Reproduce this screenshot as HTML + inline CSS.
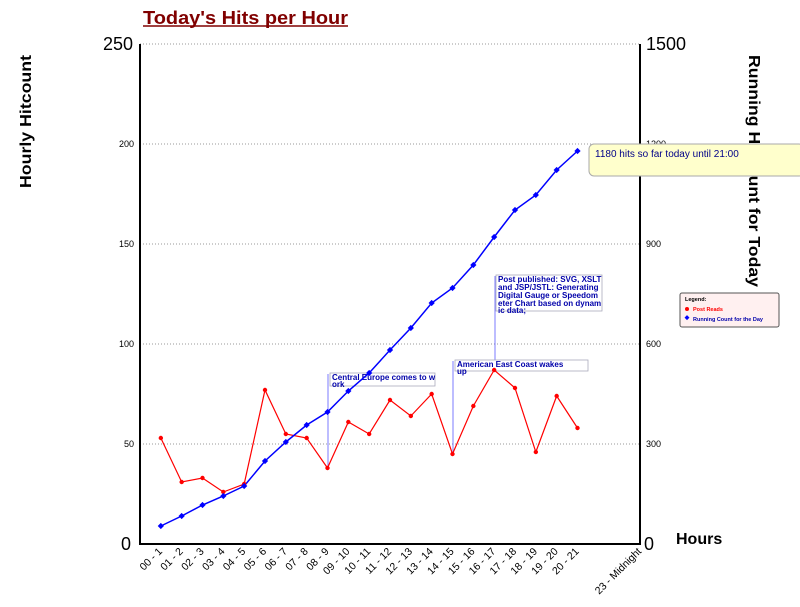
<!DOCTYPE html>
<html><head><meta charset="utf-8"><style>body{margin:0;background:#fff}svg{display:block}text{font-family:"Liberation Sans",Arial,sans-serif}</style></head><body>
<svg width="800" height="607" viewBox="0 0 800 607" xmlns="http://www.w3.org/2000/svg">
<text x="143" y="24" font-size="18" font-weight="bold" fill="#800000" textLength="205" lengthAdjust="spacingAndGlyphs">Today's Hits per Hour</text>
<line x1="143" y1="26" x2="348" y2="26" stroke="#800000" stroke-width="1.5"/>
<g stroke="#999" stroke-dasharray="1,2" stroke-width="1">
<line x1="140" y1="44" x2="640" y2="44"/><line x1="140" y1="144" x2="640" y2="144"/><line x1="140" y1="244" x2="640" y2="244"/><line x1="140" y1="344" x2="640" y2="344"/><line x1="140" y1="444" x2="640" y2="444"/>
</g>
<g stroke="#000" stroke-width="2"><line x1="140" y1="44" x2="140" y2="545"/><line x1="640" y1="44" x2="640" y2="545"/><line x1="139" y1="544" x2="641" y2="544"/></g>
<g font-size="9" fill="#000"><text x="134" y="147" text-anchor="end">200</text><text x="134" y="247" text-anchor="end">150</text><text x="134" y="347" text-anchor="end">100</text><text x="134" y="447" text-anchor="end">50</text>
<text x="646" y="147">1200</text><text x="646" y="247">900</text><text x="646" y="347">600</text><text x="646" y="447">300</text></g>
<g font-size="18" fill="#000"><text x="133" y="50" text-anchor="end">250</text><text x="131" y="550" text-anchor="end">0</text><text x="646" y="50">1500</text><text x="644" y="550">0</text></g>
<text transform="translate(31,55) rotate(-90)" font-size="16" font-weight="bold" text-anchor="end" textLength="133" lengthAdjust="spacingAndGlyphs">Hourly Hitcount</text>
<text transform="translate(749,55) rotate(90)" font-size="16" font-weight="bold" textLength="232" lengthAdjust="spacingAndGlyphs">Running Hitcount for Today</text>
<text x="676" y="544" font-size="16" font-weight="bold">Hours</text>
<g id="xl" font-size="10.5" fill="#000"></g>
<g stroke="#5a5aff" stroke-width="0.8" fill="none"><line x1="328" y1="374" x2="328" y2="468"/><line x1="453" y1="361" x2="453" y2="454"/><line x1="495" y1="276" x2="495" y2="370"/></g>
<g fill="#fff" stroke="#aab" stroke-width="0.8"><rect x="330" y="373" width="105" height="13"/><rect x="455" y="360" width="133" height="11"/><rect x="496" y="275" width="106" height="36"/></g>
<g font-size="8" font-weight="bold" fill="#0000aa"><text x="332" y="380">Central Europe comes to w</text><text x="332" y="387">ork</text>
<text x="457" y="367">American East Coast wakes</text><text x="457" y="374">up</text>
<text x="498" y="282">Post published: SVG, XSLT</text><text x="498" y="290">and JSP/JSTL: Generating</text><text x="498" y="298">Digital Gauge or Speedom</text><text x="498" y="306">eter Chart based on dynam</text><text x="498" y="313">ic data;</text></g>
<polyline id="r" fill="none" stroke="#f00" stroke-width="1.2"/>
<polyline id="b" fill="none" stroke="#00f" stroke-width="1.5"/>
<g id="pts"></g>
<rect x="589" y="144" width="215" height="32" rx="5" fill="#ffffcc" stroke="#aaa"/>
<text x="595" y="157" font-size="10" fill="#000088">1180 hits so far today until 21:00</text>
<rect x="680" y="293" width="99" height="34" rx="2" fill="#fff0f0" stroke="#555"/>
<text x="685" y="301" font-size="5.5" font-weight="bold">Legend:</text>
<circle cx="687" cy="309" r="2" fill="#f00"/><text x="693" y="311" font-size="5.5" font-weight="bold" fill="#f00">Post Reads</text>
<rect x="685" y="316" width="3.5" height="3.5" fill="#00f" transform="rotate(45 687 318)"/><text x="693" y="321" font-size="5.5" font-weight="bold" fill="#00a">Running Count for the Day</text>
</svg>
<script>
var red=[53,31,33,26,30,77,55,53,38,61,55,72,64,75,45,69,87,78,46,74,58];
var by=[526,516,505,496,486,461,442,425,412,391,373,350,328,303,288,265,237,210,195,170,151];
var ns="http://www.w3.org/2000/svg",rp="",bp="",g=document.getElementById("pts"),xl=document.getElementById("xl");
function X(i){return 140+500/24*(i+1);}
for(var i=0;i<21;i++){var x=X(i),y=544-red[i]*2;rp+=x+","+y+" ";bp+=x+","+by[i]+" ";
var c=document.createElementNS(ns,"circle");c.setAttribute("cx",x);c.setAttribute("cy",y);c.setAttribute("r",2.2);c.setAttribute("fill","#f00");g.appendChild(c);
var r=document.createElementNS(ns,"rect");r.setAttribute("x",x-2.2);r.setAttribute("y",by[i]-2.2);r.setAttribute("width",4.4);r.setAttribute("height",4.4);r.setAttribute("fill","#00f");r.setAttribute("transform","rotate(45 "+x+" "+by[i]+")");g.appendChild(r);
var t=document.createElementNS(ns,"text");var s=(i<10?"0":"")+i+" - "+(i+1);t.textContent=s;t.setAttribute("text-anchor","end");t.setAttribute("transform","translate("+(x+2)+",552) rotate(-45)");xl.appendChild(t);}
var t=document.createElementNS(ns,"text");t.textContent="23 - Midnight";t.setAttribute("text-anchor","end");t.setAttribute("transform","translate(642,552) rotate(-45)");xl.appendChild(t);
document.getElementById("r").setAttribute("points",rp);document.getElementById("b").setAttribute("points",bp);
</script>
</body></html>
